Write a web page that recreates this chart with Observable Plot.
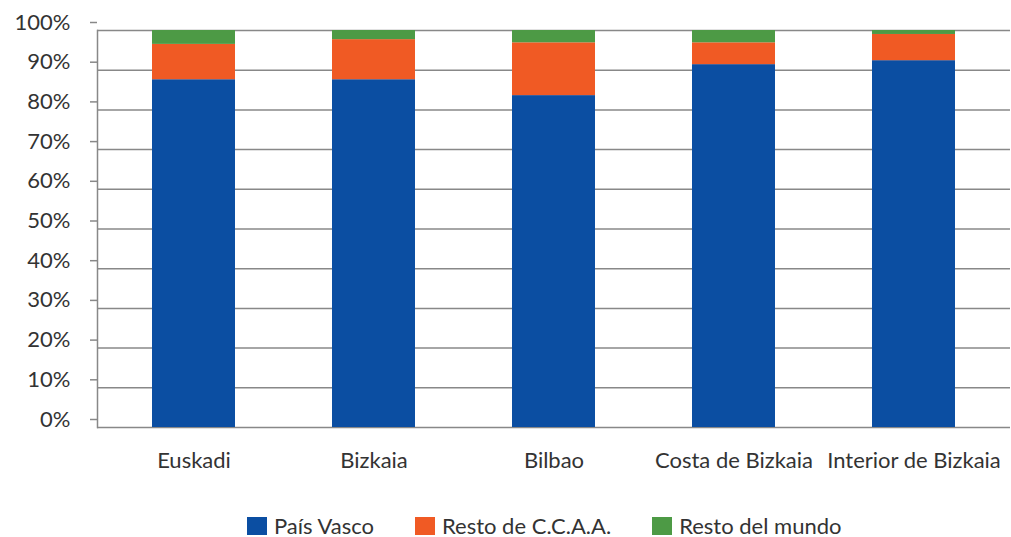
<!DOCTYPE html>
<html><head><meta charset="utf-8">
<script src="https://cdn.jsdelivr.net/npm/d3@7"></script>
<script src="https://cdn.jsdelivr.net/npm/@observablehq/plot@0.6"></script>
<style>
body{margin:0;background:#fff;font-family:Lato,"Open Sans",sans-serif;}
#legend{display:flex;justify-content:flex-start;gap:41px;margin-top:23px;font-size:22px;color:#333;padding-left:247px;line-height:26px;}
#legend .it{display:flex;align-items:center;gap:7px;}
#legend .sw{width:20px;height:18px;display:inline-block;}
</style></head><body><div id="chart"></div><div id="legend"></div><script>
const categories = ["Euskadi","Bizkaia","Bilbao","Costa de Bizkaia","Interior de Bizkaia"];
const series = ["País Vasco","Resto de C.C.A.A.","Resto del mundo"];
const paisVasco = [87.6,87.6,83.6,91.4,92.4];
const restoCCAA = [8.9,10.1,13.3,5.5,6.6];
const restoMundo = [3.5,2.3,3.1,3.1,1.0];
const colors = ["#0b4ea2","#f05a24","#4d9a45"];
const yTicks = [0,10,20,30,40,50,60,70,80,90,100];
const values = [paisVasco, restoCCAA, restoMundo];
const data = categories.flatMap((c,i)=>series.map((s,j)=>({cat:c, serie:s, v:values[j][i]})));
const chart = Plot.plot({
  width:1011,height:490,marginLeft:97,marginRight:1,marginTop:30,marginBottom:63,
  style:{fontFamily:"Lato, 'Open Sans', sans-serif",fontSize:"22px",background:"#fff",overflow:"visible"},
  x:{domain:categories,paddingInner:0.54,paddingOuter:0.305,label:null},
  y:{domain:[0,100],label:null},
  color:{domain:series,range:colors},
  marks:[
    Plot.ruleY(yTicks,{stroke:"#888",strokeWidth:1.5}),
    Plot.barY(data,{x:"cat",y:"v",fill:"serie"}),
    Plot.axisY(yTicks,{tickSize:7,tickPadding:20,tickFormat:d=>d+"%",fontSize:22,dy:-8,stroke:"#888",strokeWidth:1.5,fill:"#333",label:null}),
    Plot.axisX({tickSize:0,tickPadding:25,fontSize:22,fill:"#333",label:null}),
    Plot.frame({anchor:"left",stroke:"#888",strokeWidth:1.5})
  ]
});
document.getElementById("chart").appendChild(chart);
const lg = document.getElementById("legend");
series.forEach((s,i)=>{
  const it=document.createElement("div");it.className="it";
  const sw=document.createElement("span");sw.className="sw";sw.style.background=colors[i];
  const t=document.createElement("span");t.textContent=s;
  it.appendChild(sw);it.appendChild(t);lg.appendChild(it);
});
</script></body></html>
